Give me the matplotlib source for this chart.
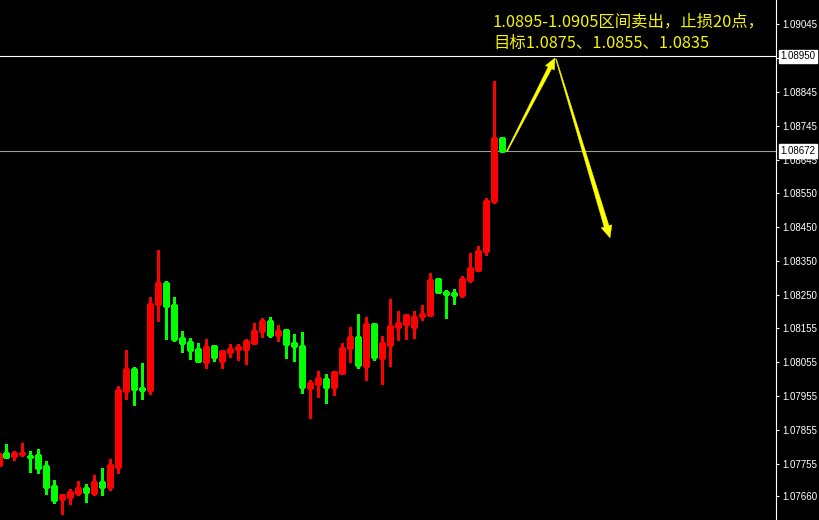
import numpy as np
import matplotlib
matplotlib.use("Agg")
import matplotlib.pyplot as plt
from matplotlib.patches import Polygon
from matplotlib.transforms import blended_transform_factory

# ---------------- data ----------------
opens = [1.07753, 1.07788, 1.07779, 1.07785, 1.07779, 1.07782, 1.07750, 1.07691, 1.07653, 1.07659,
         1.07671, 1.07685, 1.07671, 1.07703, 1.07688, 1.07747, 1.07969, 1.08034, 1.07978, 1.07972,
         1.08224, 1.08286, 1.08221, 1.08125, 1.08113, 1.08092, 1.08054, 1.08101, 1.08057, 1.08084,
         1.08092, 1.08092, 1.08110, 1.08145, 1.08175, 1.08133, 1.08148, 1.08110, 1.08101, 1.07978,
         1.07990, 1.08005, 1.07981, 1.08022, 1.08095, 1.08128, 1.08043, 1.08166, 1.08066, 1.08104,
         1.08157, 1.08166, 1.08157, 1.08189, 1.08192, 1.08298, 1.08259, 1.08257, 1.08251, 1.08295,
         1.08324, 1.08380, 1.08526, 1.08711]
highs = [1.07788, 1.07814, 1.07794, 1.07817, 1.07794, 1.07799, 1.07764, 1.07709, 1.07665, 1.07682,
         1.07706, 1.07697, 1.07723, 1.07744, 1.07770, 1.07984, 1.08090, 1.08040, 1.08051, 1.08245,
         1.08383, 1.08292, 1.08245, 1.08145, 1.08125, 1.08110, 1.08122, 1.08101, 1.08090, 1.08107,
         1.08107, 1.08122, 1.08169, 1.08183, 1.08186, 1.08163, 1.08148, 1.08136, 1.08142, 1.08002,
         1.08028, 1.08019, 1.08025, 1.08110, 1.08157, 1.08195, 1.08186, 1.08169, 1.08131, 1.08239,
         1.08204, 1.08195, 1.08204, 1.08221, 1.08315, 1.08301, 1.08265, 1.08268, 1.08306, 1.08374,
         1.08394, 1.08535, 1.08878, 1.08714]
lows = [1.07750, 1.07773, 1.07767, 1.07779, 1.07732, 1.07729, 1.07668, 1.07641, 1.07609, 1.07638,
        1.07665, 1.07644, 1.07665, 1.07665, 1.07679, 1.07729, 1.07946, 1.07928, 1.07946, 1.07961,
        1.08175, 1.08122, 1.08116, 1.08084, 1.08063, 1.08057, 1.08037, 1.08057, 1.08037, 1.08069,
        1.08060, 1.08048, 1.08110, 1.08128, 1.08128, 1.08116, 1.08066, 1.08057, 1.07964, 1.07890,
        1.07952, 1.07934, 1.07958, 1.08022, 1.08054, 1.08037, 1.08002, 1.08060, 1.07990, 1.08043,
        1.08119, 1.08122, 1.08125, 1.08177, 1.08192, 1.08257, 1.08183, 1.08224, 1.08245, 1.08289,
        1.08324, 1.08368, 1.08520, 1.08673]
closes = [1.07785, 1.07776, 1.07788, 1.07788, 1.07776, 1.07744, 1.07688, 1.07650, 1.07665, 1.07673,
          1.07685, 1.07673, 1.07703, 1.07688, 1.07753, 1.07972, 1.08034, 1.07975, 1.07972, 1.08224,
          1.08286, 1.08218, 1.08122, 1.08110, 1.08090, 1.08057, 1.08098, 1.08069, 1.08087, 1.08092,
          1.08098, 1.08116, 1.08145, 1.08175, 1.08133, 1.08145, 1.08107, 1.08101, 1.07981, 1.07993,
          1.08007, 1.07981, 1.08025, 1.08095, 1.08128, 1.08046, 1.08166, 1.08069, 1.08110, 1.08160,
          1.08169, 1.08192, 1.08186, 1.08195, 1.08295, 1.08259, 1.08254, 1.08251, 1.08298, 1.08330,
          1.08380, 1.08526, 1.08711, 1.08673]

tick_values = [1.09045, 1.08945, 1.08845, 1.08745, 1.08645, 1.08550, 1.08450, 1.08350, 1.08250,
               1.08155, 1.08055, 1.07955, 1.07855, 1.07755, 1.07660]
hidden_ticks = [1.08945]          # label covered by the sell-level box
sell_level = 1.08950
current_price = 1.08672

# planned path (candle index, price)
arrow_up = [(63.56, 1.08672), (69.56, 1.08945)]
arrow_down = [(69.69, 1.08942), (76.44, 1.08418)]

title_line1 = "1.0895-1.0905区间卖出，止损20点，"
title_line2 = "目标1.0875、1.0855、1.0835"

# ---------------- figure ----------------
W, H = 820, 520
fig = plt.figure(figsize=(W / 100, H / 100), dpi=100, facecolor="black")
ax = fig.add_axes([0, 0, 776 / W, 1])
ax.set_facecolor("black")

n = len(opens)
x = np.arange(n)
o = np.array(opens); h = np.array(highs); l = np.array(lows); c = np.array(closes)
up = c >= o
colors = np.where(up, "#FF0000", "#00FF00")

ax.vlines(x, l, h, colors=colors, linewidth=0.75, antialiased=False, zorder=2)
bottoms = np.minimum(o, c)
heights = np.abs(c - o)
ax.bar(x, heights, bottom=bottoms, width=0.5, color=colors, edgecolor=colors,
       linewidth=0.75, antialiased=False, zorder=3)

ax.set_xlim(0.1875, 97.1875)
ax.set_ylim(1.07591, 1.09115)

# level lines
ax.axhline(sell_level, color="white", linewidth=0.8, zorder=1)
ax.axhline(current_price, color="#9c9c9c", linewidth=0.8, zorder=1)

# axes styling
for s in ["top", "left", "bottom"]:
    ax.spines[s].set_visible(False)
ax.spines["right"].set_color("white")
ax.spines["right"].set_linewidth(0.8)
ax.set_xticks([])
ax.yaxis.tick_right()
ax.set_yticks(tick_values)
ax.set_yticklabels(["" if v in hidden_ticks else f"{v:.5f}" for v in tick_values])
ax.tick_params(axis="y", direction="out", length=2.5, width=0.8, color="white",
               labelcolor="white", labelsize=7, pad=2)
for lab in ax.get_yticklabels():
    lab.set_family(["Liberation Sans", "DejaVu Sans"])

# price boxes on the axis
trans = blended_transform_factory(ax.transAxes, ax.transData)
for val in [sell_level, current_price]:
    ax.text(1.0 + 4.5 / 776, val, f"{val:.5f}", transform=trans, ha="left", va="center",
            fontsize=7, family=["Liberation Sans", "DejaVu Sans"], color="black",
            bbox=dict(boxstyle="square,pad=0.18", fc="white", ec="white"),
            clip_on=False, zorder=10)

# tapered arrows drawn in display space
def tapered_arrow(p0, p1, w0=1.0, w1=4.5, hl=12.0, hw=5.0):
    pts = ax.transData.transform([p0, p1])
    S, T = pts[0], pts[1]
    d = T - S
    u = d / np.hypot(*d)
    nrm = np.array([-u[1], u[0]])
    B = T - u * hl
    verts = [S + nrm * w0 / 2, B + nrm * w1 / 2, B + nrm * hw, T,
             B - nrm * hw, B - nrm * w1 / 2, S - nrm * w0 / 2]
    poly = Polygon(verts, closed=True, transform=None, fc="#FFFF00", ec="#FFFF00",
                   linewidth=0.3, zorder=6)
    fig.add_artist(poly)

tapered_arrow(arrow_up[0], arrow_up[1], w0=1.0, w1=4.0, hl=11, hw=5)
tapered_arrow(arrow_down[0], arrow_down[1], w0=0.8, w1=5.0, hl=12, hw=5.5)

# annotation text
cjk = ["Noto Sans CJK SC", "DejaVu Sans"]
fig.text(493 / W, 1 - 26 / H, title_line1, family=cjk, fontsize=11.8, color="#F5F500",
         ha="left", va="baseline")
fig.text(493 / W, 1 - 48 / H, title_line2, family=cjk, fontsize=11.8, color="#F5F500",
         ha="left", va="baseline")

fig.savefig("out.png", dpi=100, facecolor="black")
